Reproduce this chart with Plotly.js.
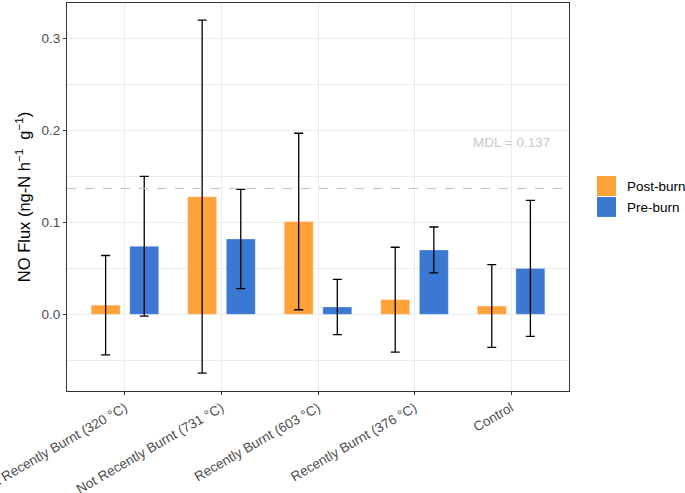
<!DOCTYPE html>
<html>
<head>
<meta charset="utf-8">
<script src="https://cdn.plot.ly/plotly-3.0.1.min.js"></script>
<style>
  html, body { margin: 0; padding: 0; background: #fff; }
  #chart { width: 685px; height: 493px; }
</style>
</head>
<body>
<div id="chart"></div>
<script>
// NO flux per site, mean ± error
const sites = [
    "Not Recently Burnt (320 °C)",
    "Not Recently Burnt (731 °C)",
    "Recently Burnt (603 °C)",
    "Recently Burnt (376 °C)",
    "Control",
];
const postBurn    = [0.010, 0.128, 0.101, 0.016, 0.009];
const postBurnErr = [0.054, 0.192, 0.096, 0.057, 0.045];
const preBurn     = [0.074, 0.082, 0.008, 0.070, 0.050];
const preBurnErr  = [0.076, 0.054, 0.030, 0.025, 0.074];
const seriesNames = ["Post-burn", "Pre-burn"];
const seriesColors = ["#FFA23A", "#3A78D2"];
const mdl = 0.137;

const FONT = "Liberation Sans, Arial, Helvetica, sans-serif";

function barTrace(name, y, err, color) {
    return {
        type: "bar",
        name,
        x: sites,
        y,
        marker: { color, line: { color: "rgba(255,255,255,0.5)", width: 0.6 } },
        error_y: { type: "data", array: err, visible: true, color: "#000", thickness: 1.3, width: 4.5 },
        hoverinfo: "x+y",
    };
}

const traces = [
    barTrace(seriesNames[0], postBurn, postBurnErr, seriesColors[0]),
    barTrace(seriesNames[1], preBurn, preBurnErr, seriesColors[1]),
];

// ggplot-style legend: big square keys to the right of the panel
const legendShapes = seriesNames.map((n, i) => ({
    type: "rect", xref: "paper", yref: "paper",
    x0: 1.0558, x1: 1.0936,
    y0: 0.5026 - i * 0.0540, y1: 0.5540 - i * 0.0540,
    fillcolor: seriesColors[i], line: { width: 0 },
}));
const legendLabels = seriesNames.map((n, i) => ({
    xref: "paper", yref: "paper",
    x: 1.111, y: 0.528 - i * 0.054,
    xanchor: "left", yanchor: "middle",
    text: n, showarrow: false,
    font: { family: FONT, size: 13.5, color: "#000" },
}));

const layout = {
    width: 685,
    height: 493,
    margin: { t: 3, b: 102, l: 67, r: 116 },
    paper_bgcolor: "#fff",
    plot_bgcolor: "#fff",
    font: { family: FONT, size: 13.5, color: "#4d4d4d" },
    barmode: "group",
    bargap: 0.2,
    bargroupgap: 0.25,
    showlegend: false,
    xaxis: {
        type: "category",
        range: [-0.6, 4.6],
        tickangle: -30,
        tickfont: { family: FONT, size: 13.5, color: "#4d4d4d" },
        showgrid: true, gridcolor: "#ebebeb", gridwidth: 1,
        ticks: "outside", ticklen: 3, tickcolor: "#333", tickwidth: 1,
        showline: true, linecolor: "#333", linewidth: 1.1, mirror: true,
        zeroline: false,
        automargin: false,
    },
    yaxis: {
        range: [-0.0834, 0.3387],
        tickvals: [0, 0.1, 0.2, 0.3],
        ticktext: ["0.0", "0.1", "0.2", "0.3"],
        tickfont: { family: FONT, size: 13.5, color: "#4d4d4d" },
        showgrid: true, gridcolor: "#ebebeb", gridwidth: 1,
        minor: { tickvals: [-0.05, 0.05, 0.15, 0.25], showgrid: true, gridcolor: "#ebebeb", gridwidth: 0.6, ticks: "" },
        ticks: "outside", ticklen: 3, tickcolor: "#333", tickwidth: 1,
        showline: true, linecolor: "#333", linewidth: 1.1, mirror: true,
        zeroline: false,
        automargin: false,
        title: {
            text: "NO Flux (ng-N h<sup>−1</sup>  g<sup>−1</sup>)",
            font: { family: FONT, size: 16.5, color: "#000" },
            standoff: 6,
        },
    },
    shapes: [{
        type: "line", xref: "paper", yref: "y",
        x0: 0, x1: 1, y0: mdl, y1: mdl,
        line: { color: "#bdbdbd", width: 1, dash: "dash" },
        layer: "above",
    }, ...legendShapes],
    annotations: [{
        xref: "x", yref: "y", x: "Control", y: 0.187,
        text: "MDL = " + mdl,
        showarrow: false,
        font: { family: FONT, size: 13.5, color: "#c8c8c8" },
    }, ...legendLabels],
};

Plotly.newPlot("chart", traces, layout, { displayModeBar: false, responsive: false });
</script>
</body>
</html>
